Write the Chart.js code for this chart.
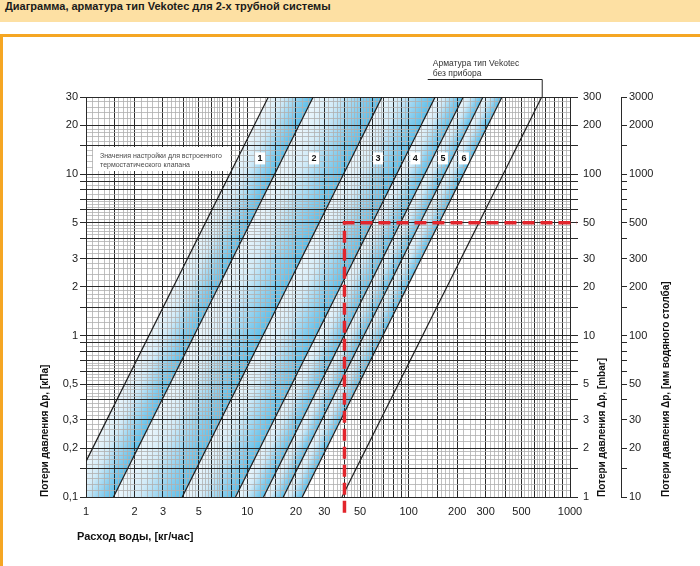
<!DOCTYPE html>
<html>
<head>
<meta charset="utf-8">
<script src="https://cdn.jsdelivr.net/npm/chart.js"></script>
<style>
  html, body { margin: 0; padding: 0; background: #fff; overflow: hidden; }
  body { width: 700px; height: 566px; position: relative; }
  #head {
    height: 22px; line-height: 22px; padding-left: 5px;
    background: #fde0a3; color: #1a1a1a;
    font: bold 11px "Liberation Sans", Arial, sans-serif;
  }
  #frame {
    position: absolute; top: 34px; left: 0;
    width: 697px; height: 529px;
    border-top: 3px solid #f5a623; border-left: 3px solid #f5a623;
  }
  #chart { display: block; }
</style>
</head>
<body>
<div id="head">Диаграмма, арматура тип Vekotec для 2-х трубной системы</div>
<div id="frame"><canvas id="chart" width="697" height="529"></canvas></div>
<script>
/* global Chart */

// curves: where each line meets the edge of the plot (flow kg/h, loss kPa)
const curveStartFlow = [1, 1.48, 3.95, 8.45, 12.6, 16.7, 21.9, 38.6];
const curveStartLoss = [0.166, 0.1, 0.1, 0.1, 0.1, 0.1, 0.1, 0.1];
const curveEndFlow = [13.5, 25.6, 68.4, 146, 218, 289, 379, 668];
const curveEndLoss = [30, 30, 30, 30, 30, 30, 30, 30];

// settings 1..6 sit in the bands between neighbouring lines
const bandLabels = ['1', '2', '3', '4', '5', '6'];
const bandLabelFlow = [12, 25.9, 64.6, 110, 163, 220];
const bandLabelLoss = 12.5;

// example reading (red dashed)
const readingFlow = 40;
const readingLoss = 5;

// axes
const flowMin = 1, flowMax = 1000;
const lossMin = 0.1, lossMax = 30;
const gridMajor = [1, 1.5, 2, 3, 4, 5, 6, 7, 8, 9];
const gridMinor = [1.1, 1.2, 1.3, 1.4, 1.6, 1.7, 1.8, 1.9, 2.2, 2.4, 2.6, 2.8,
  3.2, 3.4, 3.6, 3.8, 4.2, 4.4, 4.6, 4.8, 5.25, 5.5, 5.75, 6.25, 6.5, 6.75, 7.5, 8.5, 9.5];
const labelMantissa = [1, 2, 3, 5];

const noteLines = ['Значения настройки для встроенного', 'термостатического клапана'];
const vekotecLines = ['Арматура тип Vekotec', 'без прибора'];
const titleKpa = 'Потери давления Δр, [кПа]';
const titleMbar = 'Потери давления Δр, [mbar]';
const titleMm = 'Потери давления Δр, [мм водяного столба]';
const titleFlow = 'Расход воды, [кг/час]';

const FONT = '"Liberation Sans", Arial, sans-serif';
const DARK = '#2a2a2a';
const LIGHT = '#b0b0b0';

function spread(mantissas, min, max) {
  const out = [];
  for (let d = Math.pow(10, Math.floor(Math.log10(min))); d <= max; d *= 10) {
    mantissas.forEach(function (m) {
      const v = +(m * d).toPrecision(6);
      if (v >= min && v <= max) out.push(v);
    });
  }
  return out;
}

function makeAxis(min, max, withMinor) {
  const major = spread(gridMajor, min, max);
  const all = withMinor ? major.concat(spread(gridMinor, min, max)) : major.slice();
  all.sort(function (a, b) { return a - b; });
  return {
    ticks: all,
    major: new Set(major),
    labels: new Set(spread(labelMantissa, min, max))
  };
}

const xAxis = makeAxis(flowMin, flowMax, true);
const yAxis = makeAxis(lossMin, lossMax, true);
const mbarAxis = makeAxis(lossMin * 10, lossMax * 10, false);
const mmAxis = makeAxis(lossMin * 100, lossMax * 100, false);

function fmt(v) {
  return String(v).replace('.', ',');
}

function setTicks(list) {
  return function (axis) {
    axis.ticks = list.map(function (v) { return {value: v}; });
  };
}

// band between line i and line i+1, closed along the plot edges
function bandPolygon(i) {
  const pts = [
    {x: curveStartFlow[i], y: curveStartLoss[i]},
    {x: curveEndFlow[i], y: curveEndLoss[i]},
    {x: curveEndFlow[i + 1], y: curveEndLoss[i + 1]},
    {x: curveStartFlow[i + 1], y: curveStartLoss[i + 1]}
  ];
  if (curveStartLoss[i] > lossMin) pts.push({x: flowMin, y: lossMin});
  return pts;
}

function bandGradient(context) {
  const chart = context.chart;
  const area = chart.chartArea;
  if (!area) return 'rgba(110,195,235,0.5)';
  const i = context.dataset.bandIndex;
  const sx = chart.scales.x, sy = chart.scales.y;
  const ax = sx.getPixelForValue(curveStartFlow[i]), ay = sy.getPixelForValue(curveStartLoss[i]);
  const h1x = sx.getPixelForValue(curveStartFlow[i + 1]), h1y = sy.getPixelForValue(curveStartLoss[i + 1]);
  const h2x = sx.getPixelForValue(curveEndFlow[i + 1]), h2y = sy.getPixelForValue(curveEndLoss[i + 1]);
  const ux = h2x - h1x, uy = h2y - h1y;
  const t = ((ax - h1x) * ux + (ay - h1y) * uy) / (ux * ux + uy * uy);
  const fx = h1x + t * ux, fy = h1y + t * uy;
  const g = chart.ctx.createLinearGradient(ax, ay, fx, fy);
  g.addColorStop(0, '#eef7fc');
  g.addColorStop(0.35, '#d2ebf8');
  g.addColorStop(0.75, '#86cdee');
  g.addColorStop(1, '#5cbfe9');
  return g;
}

const datasets = [];

datasets.push({
  data: [
    {x: readingFlow, y: lossMin * 0.8},
    {x: readingFlow, y: readingLoss},
    {x: flowMax * 1.1, y: readingLoss}
  ],
  borderColor: '#e2252c',
  borderWidth: 3.5,
  borderDash: [12, 6],
  pointRadius: 0,
  fill: false,
  clip: false
});

for (let i = 0; i < curveStartFlow.length; i++) {
  datasets.push({
    data: [
      {x: curveStartFlow[i], y: curveStartLoss[i]},
      {x: curveEndFlow[i], y: curveEndLoss[i]}
    ],
    borderColor: '#1c1c1c',
    borderWidth: 1.2,
    pointRadius: 0,
    fill: false
  });
}

for (let i = 0; i < bandLabels.length; i++) {
  datasets.push({
    bandIndex: i,
    data: bandPolygon(i),
    borderWidth: 0,
    borderColor: 'rgba(0,0,0,0)',
    backgroundColor: bandGradient,
    pointRadius: 0,
    fill: 'shape'
  });
}

const annotations = {
  id: 'annotations',
  beforeDatasetsDraw: function (chart) {
    const ctx = chart.ctx;
    const area = chart.chartArea;
    const sx = chart.scales.x, sy = chart.scales.y;
    ctx.save();
    ctx.fillStyle = '#fff';
    ctx.fillRect(area.left + 7, area.top + 50, 137, 24);
    ctx.fillStyle = '#4a4a4a';
    ctx.font = '7px ' + FONT;
    ctx.textAlign = 'left';
    ctx.textBaseline = 'middle';
    ctx.fillText(noteLines[0], area.left + 14, area.top + 59);
    ctx.fillText(noteLines[1], area.left + 14, area.top + 68);

    ctx.font = 'bold 9px ' + FONT;
    ctx.textAlign = 'center';
    bandLabels.forEach(function (t, i) {
      const px = sx.getPixelForValue(bandLabelFlow[i]);
      const py = sy.getPixelForValue(bandLabelLoss);
      ctx.fillStyle = '#fff';
      ctx.fillRect(px - 5, py - 6, 10, 12);
      ctx.fillStyle = '#111';
      ctx.fillText(t, px, py + 0.5);
    });
    ctx.restore();
  },
  afterDraw: function (chart) {
    const ctx = chart.ctx;
    const area = chart.chartArea;
    const sx = chart.scales.x;
    const last = curveEndFlow.length - 1;
    const hx = sx.getPixelForValue(curveEndFlow[last]);
    ctx.save();

    // leader for the line without valve insert
    ctx.strokeStyle = '#222';
    ctx.lineWidth = 1;
    ctx.beginPath();
    ctx.moveTo(hx - 114, area.top - 17.5);
    ctx.lineTo(hx + 0.5, area.top - 17.5);
    ctx.lineTo(hx + 0.5, area.top);
    ctx.stroke();
    ctx.fillStyle = '#333';
    ctx.font = '8.5px ' + FONT;
    ctx.textAlign = 'left';
    ctx.textBaseline = 'middle';
    ctx.fillText(vekotecLines[0], hx - 109, area.top - 33);
    ctx.fillText(vekotecLines[1], hx - 109, area.top - 23);

    // axis titles
    ctx.fillStyle = '#111';
    ctx.font = 'bold 10px ' + FONT;
    [[area.left - 41, titleKpa], [area.right + 32, titleMbar], [area.right + 96, titleMm]].forEach(function (t) {
      ctx.save();
      ctx.translate(t[0], area.bottom);
      ctx.rotate(-Math.PI / 2);
      ctx.fillText(t[1], 0, 0);
      ctx.restore();
    });
    ctx.font = 'bold 11px ' + FONT;
    ctx.fillText(titleFlow, area.left - 9, area.bottom + 40);
    ctx.restore();
  }
};

function gridColor(axis) {
  return function (c) { return axis.major.has(c.tick.value) ? DARK : LIGHT; };
}
function gridWidth(axis) {
  return function (c) { return axis.major.has(c.tick.value) ? 1 : 0.8; };
}
function labelCb(axis, useComma) {
  return function (v) {
    if (!axis.labels.has(v)) return '';
    return useComma ? fmt(v) : String(v);
  };
}

const tickFont = {family: FONT, size: 11};

new Chart(document.getElementById('chart'), {
  type: 'line',
  data: {datasets: datasets},
  plugins: [annotations],
  options: {
    responsive: false,
    animation: false,
    layout: {padding: {top: 60, left: 0, right: 0, bottom: 0}},
    plugins: {
      legend: {display: false},
      tooltip: {enabled: false},
      filler: {drawTime: 'beforeDraw'}
    },
    scales: {
      x: {
        type: 'logarithmic',
        position: 'bottom',
        min: flowMin,
        max: flowMax,
        afterBuildTicks: setTicks(xAxis.ticks),
        afterFit: function (a) { a.height = 69; },
        grid: {color: gridColor(xAxis), lineWidth: gridWidth(xAxis), drawTicks: false},
        border: {color: DARK, width: 1},
        ticks: {autoSkip: false, maxRotation: 0, minRotation: 0, padding: 8,
          color: '#1a1a1a', font: tickFont, callback: labelCb(xAxis, false)}
      },
      y: {
        type: 'logarithmic',
        position: 'left',
        min: lossMin,
        max: lossMax,
        afterBuildTicks: setTicks(yAxis.ticks),
        afterFit: function (a) { a.width = 83; },
        grid: {color: gridColor(yAxis), lineWidth: gridWidth(yAxis), tickLength: 6,
          tickColor: function (c) { return yAxis.major.has(c.tick.value) ? DARK : 'rgba(0,0,0,0)'; }},
        border: {color: DARK, width: 1},
        ticks: {autoSkip: false, padding: 2, color: '#1a1a1a', font: tickFont,
          callback: labelCb(yAxis, true)}
      },
      y2: {
        type: 'logarithmic',
        position: 'right',
        min: lossMin * 10,
        max: lossMax * 10,
        afterBuildTicks: setTicks(mbarAxis.ticks),
        afterFit: function (a) { a.width = 51; },
        grid: {drawOnChartArea: false, tickLength: 8, tickColor: DARK, lineWidth: 1},
        border: {color: DARK, width: 1},
        ticks: {autoSkip: false, padding: 5, color: '#1a1a1a', font: tickFont,
          callback: labelCb(mbarAxis, false)}
      },
      y3: {
        type: 'logarithmic',
        position: 'right',
        min: lossMin * 100,
        max: lossMax * 100,
        afterBuildTicks: setTicks(mmAxis.ticks),
        afterFit: function (a) { a.width = 79; },
        grid: {drawOnChartArea: false, tickLength: 6, tickColor: DARK, lineWidth: 1},
        border: {color: DARK, width: 1},
        ticks: {autoSkip: false, padding: 2, color: '#1a1a1a', font: tickFont,
          callback: labelCb(mmAxis, false)}
      }
    }
  }
});
</script>
</body>
</html>
